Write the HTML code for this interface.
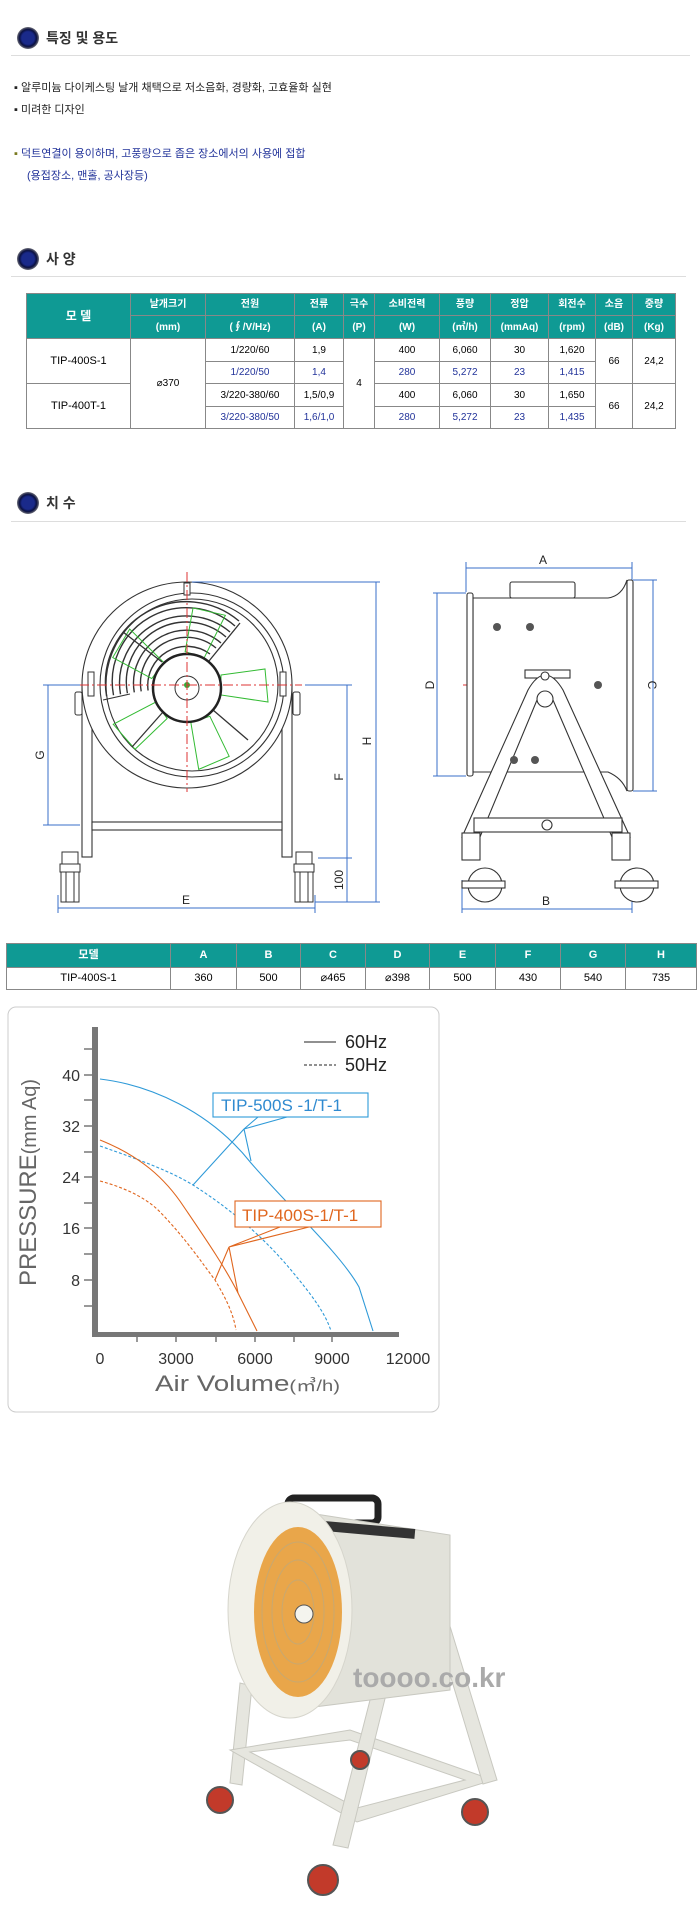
<!DOCTYPE html>
<html><head><meta charset="utf-8"><style>
body{margin:0;background:#fff;width:700px;height:1911px;position:relative;overflow:hidden;font-family:"Liberation Sans","Noto Sans CJK KR",sans-serif}
.a{position:absolute}
.h{font-size:14px;font-weight:bold;color:#333;line-height:16px}
.ic{width:22px;height:22px;border-radius:50%;background:radial-gradient(circle at 50% 50%,#1a2a8a 0 40%,#0a1040 55%,#888 75%,#ddd 100%)}
.ln{height:1px;background:#ddd}
.t{font-size:11px;color:#222;line-height:14px}
table{border-collapse:collapse;position:absolute;font-size:10px;text-align:center;table-layout:fixed}
td{border:1px solid #888;padding:0;line-height:11px}
.hd td{background:#0f9a94;color:#fff;font-weight:bold}
.b{color:#22339a}
</style></head><body>
<div class="a ic" style="left:17px;top:27px"></div>
<div class="a h" style="left:46px;top:30px">특징 및 용도</div>
<div class="a ln" style="left:11px;top:55px;width:679px"></div>
<div class="a t" style="left:14px;top:81px">▪ 알루미늄 다이케스팅 날개 채택으로 저소음화, 경량화, 고효율화 실현</div>
<div class="a t" style="left:14px;top:103px">▪ 미려한 디자인</div>
<div class="a t" style="left:14px;top:147px;color:#22339a"><span style="color:#7a7a20">▪</span> 덕트연결이 용이하며, 고풍량으로 좁은 장소에서의 사용에 접합</div>
<div class="a t" style="left:27px;top:169px;color:#22339a">(용접장소, 맨홀, 공사장등)</div>

<div class="a ic" style="left:17px;top:248px"></div>
<div class="a h" style="left:46px;top:251px">사 양</div>
<div class="a ln" style="left:11px;top:276px;width:675px"></div>
<table style="left:26px;top:293px;width:649px">
<colgroup><col style="width:104px"><col style="width:75px"><col style="width:89px"><col style="width:49px"><col style="width:31px"><col style="width:65px"><col style="width:51px"><col style="width:58px"><col style="width:47px"><col style="width:37px"><col style="width:43px"></colgroup>
<tr class="hd" style="height:22px"><td rowspan="2" style="font-size:12px">모 델</td><td>날개크기</td><td>전원</td><td>전류</td><td>극수</td><td>소비전력</td><td>풍량</td><td>정압</td><td>회전수</td><td>소음</td><td>중량</td></tr>
<tr class="hd" style="height:23px"><td>(mm)</td><td>(∮/V/Hz)</td><td>(A)</td><td>(P)</td><td>(W)</td><td>(㎥/h)</td><td>(mmAq)</td><td>(rpm)</td><td>(dB)</td><td>(Kg)</td></tr>
<tr style="height:23px"><td rowspan="2" style="font-size:11px">TIP-400S-1</td><td rowspan="4">⌀370</td><td>1/220/60</td><td>1,9</td><td rowspan="4">4</td><td>400</td><td>6,060</td><td>30</td><td>1,620</td><td rowspan="2">66</td><td rowspan="2">24,2</td></tr>
<tr style="height:22px" class="b"><td>1/220/50</td><td>1,4</td><td>280</td><td>5,272</td><td>23</td><td>1,415</td></tr>
<tr style="height:23px"><td rowspan="2" style="font-size:11px">TIP-400T-1</td><td>3/220-380/60</td><td>1,5/0,9</td><td>400</td><td>6,060</td><td>30</td><td>1,650</td><td rowspan="2">66</td><td rowspan="2">24,2</td></tr>
<tr style="height:22px" class="b"><td>3/220-380/50</td><td>1,6/1,0</td><td>280</td><td>5,272</td><td>23</td><td>1,435</td></tr>
</table>

<div class="a ic" style="left:17px;top:492px"></div>
<div class="a h" style="left:46px;top:495px">치 수</div>
<div class="a ln" style="left:11px;top:521px;width:675px"></div>

<svg class="a" style="left:0;top:540px" width="700" height="400" viewBox="0 540 700 400" font-family="Liberation Sans" font-size="11">
<!-- front view -->
<g fill="#fff" stroke="#333" stroke-width="1.1">
<rect x="82" y="685" width="10" height="172"/><rect x="282" y="685" width="10" height="172"/>
<rect x="92" y="822" width="190" height="8"/>
<ellipse cx="187" cy="685" rx="105" ry="103"/>
<ellipse cx="192" cy="685" rx="92" ry="92"/>
<ellipse cx="192" cy="685" rx="86" ry="86"/>
</g>
<g fill="none" stroke="#333" stroke-width="1.4">
<path d="M148.1 690.5 A39 39 0 0 1 210 654 M141.2 691.4 A46 46 0 0 1 216 648 M134.3 692.4 A53 53 0 0 1 221 643 M127.4 693.3 A60 60 0 0 1 226 637 M120.5 694.3 A67 67 0 0 1 230 632 M113.5 695.2 A74 74 0 0 1 235 626 M106.6 696.2 A81 81 0 0 1 239 621"/>
<path d="M130 694 L103 700" stroke-width="1"/>
</g>
<g stroke="#3b3" fill="none" stroke-width="1">
<polygon points="221,675 265,669 268,702 221,695"/>
<polygon points="221,675 265,669 268,702 221,695" transform="rotate(72 187 688)"/>
<polygon points="221,675 265,669 268,702 221,695" transform="rotate(144 187 688)"/>
<polygon points="221,675 265,669 268,702 221,695" transform="rotate(216 187 688)"/>
<polygon points="221,675 265,669 268,702 221,695" transform="rotate(288 187 688)"/>
</g>
<g stroke="#333" stroke-width="1.3"><line x1="162" y1="662" x2="123" y2="632"/><line x1="209" y1="661" x2="240" y2="623"/><line x1="213" y1="710" x2="248" y2="740"/><line x1="163" y1="712" x2="132" y2="747"/></g>
<circle cx="187" cy="688" r="34" fill="#fff" stroke="#222" stroke-width="2.5"/>
<circle cx="187" cy="688" r="12" fill="none" stroke="#333"/>
<circle cx="187" cy="685" r="3" fill="#3a3"/>
<g fill="#fff" stroke="#333" stroke-width="1">
<rect x="184" y="583" width="6" height="12"/>
<rect x="88" y="672" width="6" height="24"/><rect x="280" y="672" width="6" height="24"/>
<rect x="75" y="692" width="7" height="23" rx="2"/><rect x="293" y="692" width="7" height="23" rx="2"/>
<rect x="62" y="852" width="16" height="12"/><rect x="296" y="852" width="16" height="12"/>
<rect x="60" y="864" width="20" height="8"/><rect x="294" y="864" width="20" height="8"/>
<rect x="61" y="872" width="18" height="30"/><rect x="295" y="872" width="18" height="30"/>
<rect x="66" y="872" width="8" height="30"/><rect x="300" y="872" width="8" height="30"/>
</g>
<g stroke="#d33" stroke-dasharray="10,3,2,3" stroke-width="1"><line x1="43" y1="685" x2="302" y2="685"/><line x1="187" y1="572" x2="187" y2="792"/><line x1="463" y1="685" x2="632" y2="685"/></g>
<g stroke="#3a6fc8" stroke-width="1" fill="none">
<line x1="192" y1="582" x2="380" y2="582"/><line x1="376" y1="582" x2="376" y2="902"/><line x1="315" y1="902" x2="380" y2="902"/>
<line x1="305" y1="685" x2="352" y2="685"/><line x1="347" y1="685" x2="347" y2="902"/><line x1="318" y1="858" x2="352" y2="858"/>
<line x1="43" y1="685" x2="80" y2="685"/><line x1="48" y1="685" x2="48" y2="825"/><line x1="43" y1="825" x2="80" y2="825"/>
<line x1="58" y1="908" x2="315" y2="908"/><line x1="58" y1="895" x2="58" y2="913"/><line x1="315" y1="895" x2="315" y2="913"/>
<line x1="466" y1="568" x2="632" y2="568"/><line x1="466" y1="562" x2="466" y2="592"/><line x1="632" y1="562" x2="632" y2="580"/>
<line x1="653" y1="580" x2="653" y2="791"/><line x1="633" y1="580" x2="657" y2="580"/><line x1="633" y1="791" x2="657" y2="791"/>
<line x1="437" y1="593" x2="437" y2="776"/><line x1="433" y1="593" x2="466" y2="593"/><line x1="433" y1="776" x2="466" y2="776"/>
<line x1="462" y1="909" x2="632" y2="909"/><line x1="462" y1="880" x2="462" y2="913"/><line x1="632" y1="895" x2="632" y2="913"/>
</g>
<g fill="#222" text-anchor="middle" font-size="12">
<text x="186" y="904">E</text><text x="546" y="905">B</text><text x="543" y="564">A</text>
<text transform="translate(371,741) rotate(-90)">H</text><text transform="translate(343,777) rotate(-90)">F</text><text transform="translate(343,880) rotate(-90)">100</text><text transform="translate(44,755) rotate(-90)">G</text><text transform="translate(434,685) rotate(-90)">D</text><text transform="translate(648,685) rotate(90)">C</text>
</g>
<!-- side view -->
<g fill="#fff" stroke="#333" stroke-width="1.1">
<rect x="510" y="582" width="65" height="16" rx="2"/>
<path d="M473 598 L608 598 Q622 596 627 580 L627 791 Q622 778 608 772 L473 772Z"/>
<rect x="467" y="593" width="6" height="183" rx="2"/>
<rect x="627" y="580" width="6" height="211" rx="2"/>
<rect x="525" y="670" width="45" height="8"/>
<path d="M462 837 L528 690 Q545 660 563 690 L630 837 L612 837 L553 700 Q545 688 537 700 L480 837Z"/>
<rect x="474" y="818" width="148" height="14"/>
<circle cx="547" cy="825" r="5"/>
<circle cx="485" cy="885" r="17"/><circle cx="637" cy="885" r="17"/>
<rect x="462" y="833" width="18" height="27"/><rect x="612" y="833" width="18" height="27"/>
<rect x="462" y="881" width="43" height="7"/><rect x="615" y="881" width="43" height="7"/>
<circle cx="545" cy="699" r="8"/><circle cx="545" cy="676" r="4"/>
</g>
<g fill="#555"><circle cx="497" cy="627" r="4"/><circle cx="530" cy="627" r="4"/><circle cx="514" cy="760" r="4"/><circle cx="535" cy="760" r="4"/><circle cx="598" cy="685" r="4"/></g>
</svg>

<table style="left:6px;top:943px;width:690px;font-size:11px">
<colgroup><col style="width:164px"><col style="width:66px"><col style="width:64px"><col style="width:65px"><col style="width:64px"><col style="width:66px"><col style="width:65px"><col style="width:65px"><col style="width:71px"></colgroup>
<tr class="hd" style="height:24px"><td>모델</td><td>A</td><td>B</td><td>C</td><td>D</td><td>E</td><td>F</td><td>G</td><td>H</td></tr>
<tr style="height:22px"><td>TIP-400S-1</td><td>360</td><td>500</td><td>⌀465</td><td>⌀398</td><td>500</td><td>430</td><td>540</td><td>735</td></tr>
</table>

<svg class="a" style="left:0;top:1000px" width="700" height="420" viewBox="0 1000 700 420" font-family="Liberation Sans">
<rect x="8" y="1007" width="431" height="405" rx="8" fill="#fff" stroke="#ccc"/>
<rect x="92" y="1027" width="6" height="310" fill="#777"/>
<rect x="92" y="1332" width="307" height="5" fill="#777"/>
<g stroke="#777" stroke-width="1.5"><line x1="84" y1="1049" x2="92" y2="1049"/><line x1="84" y1="1075" x2="92" y2="1075"/><line x1="84" y1="1100" x2="92" y2="1100"/><line x1="84" y1="1126" x2="92" y2="1126"/><line x1="84" y1="1152" x2="92" y2="1152"/><line x1="84" y1="1177" x2="92" y2="1177"/><line x1="84" y1="1203" x2="92" y2="1203"/><line x1="84" y1="1228" x2="92" y2="1228"/><line x1="84" y1="1254" x2="92" y2="1254"/><line x1="84" y1="1280" x2="92" y2="1280"/><line x1="84" y1="1306" x2="92" y2="1306"/>
<line x1="137" y1="1337" x2="137" y2="1342"/><line x1="176" y1="1337" x2="176" y2="1342"/><line x1="216" y1="1337" x2="216" y2="1342"/><line x1="255" y1="1337" x2="255" y2="1342"/><line x1="294" y1="1337" x2="294" y2="1342"/><line x1="332" y1="1337" x2="332" y2="1342"/></g>
<g font-size="16" fill="#333" text-anchor="end"><text x="80" y="1081">40</text><text x="80" y="1132">32</text><text x="80" y="1183">24</text><text x="80" y="1234">16</text><text x="80" y="1286">8</text></g>
<g font-size="16" fill="#333" text-anchor="middle"><text x="100" y="1364">0</text><text x="176" y="1364">3000</text><text x="255" y="1364">6000</text><text x="332" y="1364">9000</text><text x="408" y="1364">12000</text></g>
<text x="155" y="1391" font-size="22" fill="#666" textLength="185" lengthAdjust="spacingAndGlyphs">Air Volume<tspan font-size="16">(㎥/h)</tspan></text>
<text transform="translate(36,1286) rotate(-90)" font-size="24" fill="#666" textLength="207" lengthAdjust="spacingAndGlyphs">PRESSURE<tspan font-size="20">(mm Aq)</tspan></text>
<line x1="304" y1="1042" x2="336" y2="1042" stroke="#222"/><text x="345" y="1048" font-size="18" fill="#222">60Hz</text>
<line x1="304" y1="1065" x2="336" y2="1065" stroke="#222" stroke-dasharray="3,2"/><text x="345" y="1071" font-size="18" fill="#222">50Hz</text>
<g fill="none" stroke-width="1.1">
<path d="M100 1079 C150 1085 210 1111 251 1163 C290 1208 340 1253 359 1287 L373 1331" stroke="#2f9ad8"/>
<path d="M100 1146 C140 1160 170 1171 193 1185 C240 1215 270 1245 291 1270 C310 1293 325 1312 331 1331" stroke="#2f9ad8" stroke-dasharray="3,2"/>
<path d="M100 1140 C140 1156 165 1178 184 1207 C205 1238 225 1267 238 1293 L257 1331" stroke="#e0661e"/>
<path d="M100 1181 C130 1189 150 1201 161 1213 C185 1238 200 1260 215 1280 C225 1297 233 1312 236 1330" stroke="#e0661e" stroke-dasharray="3,2"/>
<rect x="213" y="1093" width="155" height="24" stroke="#2f9ad8" fill="#fff"/>
<path d="M258 1117 L244 1129 L287 1117 M244 1129 L193 1185 M244 1129 L251 1161" stroke="#2f9ad8"/>
<rect x="235" y="1201" width="146" height="26" stroke="#e0661e" fill="#fff"/>
<path d="M280 1227 L229 1247 L309 1227 M229 1247 L215 1280 M229 1247 L238 1293" stroke="#e0661e"/>
</g>
<text x="221" y="1111" font-size="17" fill="#2f8ad0">TIP-500S  -1/T-1</text>
<text x="242" y="1221" font-size="17" fill="#e0661e">TIP-400S-1/T-1</text>
</svg>

<svg class="a" style="left:150px;top:1450px" width="450" height="461" viewBox="0 0 450 461">
<g fill="#e6e6df" stroke="#c8c8c0">
<path d="M90 233 L80 333 L92 335 L102 236Z"/>
<path d="M80 300 L200 280 L343 330 L207 372 Z M100 302 L200 290 L315 330 L207 358 Z" fill-rule="evenodd"/>
<path d="M183 395 L243 160 Q267 128 292 150 L347 330 L333 334 L282 165 Q267 145 255 168 L198 398Z"/>
</g>
<rect x="138" y="48" width="90" height="25" rx="6" fill="none" stroke="#222" stroke-width="7"/>
<path d="M140 60 L300 85 L300 240 L140 260Z" fill="#e2e2da" stroke="#c8c8c0"/>
<rect x="175" y="75" width="90" height="10" fill="#333" transform="rotate(5 220 80)"/>
<ellipse cx="140" cy="160" rx="62" ry="108" fill="#f1f0e8" stroke="#d6d5cc"/>
<ellipse cx="148" cy="162" rx="44" ry="85" fill="#e9a64a"/>
<g fill="none" stroke="#c8a870" stroke-width="1"><ellipse cx="148" cy="162" rx="36" ry="70"/><ellipse cx="148" cy="162" rx="26" ry="52"/><ellipse cx="148" cy="162" rx="16" ry="32"/></g>
<circle cx="154" cy="164" r="9" fill="#f4f4ee" stroke="#555"/>
<g fill="#c23a2a" stroke="#555" stroke-width="2"><circle cx="70" cy="350" r="13"/><circle cx="325" cy="362" r="13"/><circle cx="173" cy="430" r="15"/><circle cx="210" cy="310" r="9"/></g>
<text x="203" y="237" font-size="28" font-weight="bold" fill="#aaa" font-family="Liberation Sans">toooo.co.kr</text>
</svg>
</body></html>
